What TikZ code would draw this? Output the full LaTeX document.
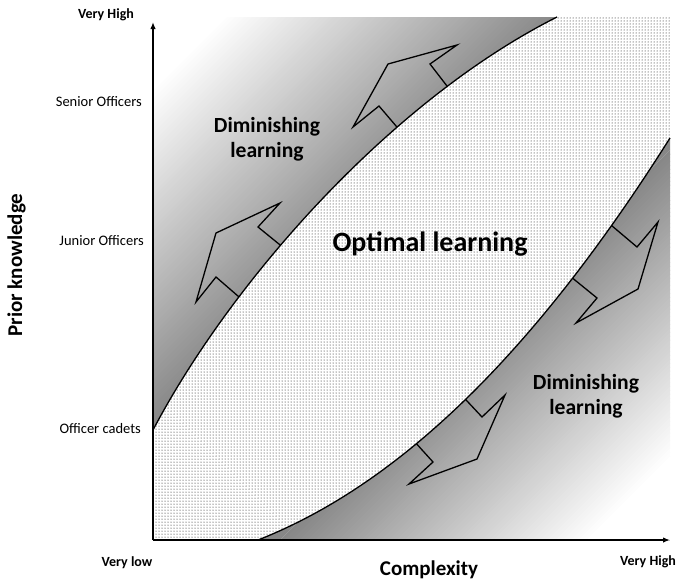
\documentclass[tikz,border=0pt]{standalone}
\usepackage{fontspec}
\setmainfont{Carlito}
\usetikzlibrary{arrows.meta,patterns}
\begin{document}
\begin{tikzpicture}[x=1pt,y=-1pt,
  curveline/.style={line width=1.3pt},
  blockarrow/.style={line width=1.3pt, line join=miter},
  axisline/.style={line width=1.8pt, -{Latex[length=7pt,width=5.5pt]}},
  ticklbl/.style={font=\fontsize{14.5}{17}\selectfont, anchor=base east, inner sep=0pt},
  endlbl/.style={font=\fontsize{14}{17}\selectfont\bfseries, anchor=base, inner sep=0pt},
  axislbl/.style={font=\fontsize{21}{25}\selectfont\bfseries, anchor=base, inner sep=0pt},
  zonelbl/.style={font=\fontsize{21.6}{25}\selectfont\bfseries, align=center, inner sep=0pt},
  biglbl/.style={font=\fontsize{28}{32}\selectfont\bfseries, anchor=base, inner sep=0pt}
]
\useasboundingbox (0,0) rectangle (679,579);

% key points
\coordinate (o) at (153,540);
\coordinate (ytop) at (153,22);
\coordinate (xend) at (670,540);
\coordinate (ub) at (153,430);
\coordinate (ut) at (557,17);
\coordinate (lb) at (258,540);
\coordinate (lr) at (670,138);

% optimal zone (dots)
\fill[pattern=dots, pattern color=black] (153,17) rectangle (670,540);

% upper diminishing zone
\begin{scope}
\clip (153,17) -- (ut) .. controls (392,100) and (232,280) .. (ub) -- cycle;
\fill[white] (140,0) rectangle (680,560);
\foreach \i in {0,...,79}{
  \pgfmathsetmacro\sa{240+\i*4.25}
  \pgfmathsetmacro\sb{\sa+5}
  \pgfmathsetmacro\k{47*\i/79}
  \fill[black!\k] (\sa+50,-50) -- (\sb+50,-50) -- (\sb-750,750) -- (\sa-750,750) -- cycle;
}
\fill[black!47] (630,-50) -- (1500,-50) -- (1500,750) -- (-170,750) -- cycle;
\draw[blockarrow] (246,303) -- (216,277) -- (196,302) -- (216,233) -- (280,203) -- (258,227) -- (290,253);
\draw[blockarrow] (408,140) -- (379,106) -- (353,127) -- (388,64) -- (457,45) -- (430,64) -- (457,99);
\end{scope}

% lower diminishing zone
\begin{scope}
\clip (lb) .. controls (395,486) and (530,360) .. (lr) -- (670,540) -- cycle;
\fill[white] (140,0) rectangle (680,560);
\fill[black!47] (870,-50) -- (70,750) -- (-1000,750) -- (-1000,-50) -- cycle;
\foreach \i in {0,...,79}{
  \pgfmathsetmacro\sa{820+\i*3.875}
  \pgfmathsetmacro\sb{\sa+5}
  \pgfmathsetmacro\k{47*(1-\i/79)}
  \fill[black!\k] (\sa+50,-50) -- (\sb+50,-50) -- (\sb-750,750) -- (\sa-750,750) -- cycle;
}
\draw[blockarrow] (404,430) -- (433,462) -- (409,484) -- (477,459) -- (505,395) -- (482,417) -- (453,386);
\draw[blockarrow] (565,272) -- (597,298) -- (576,323) -- (638,289) -- (658,222) -- (637,247) -- (605,220);
\end{scope}

% boundary curves
\draw[curveline] (ub) .. controls (232,280) and (392,100) .. (ut);
\draw[curveline] (lb) .. controls (395,486) and (530,360) .. (lr);

% axes
\draw[axisline] (o) -- (ytop);
\draw[axisline] (o) -- (xend);

% labels
\node[endlbl] (vhy) at (106,18) {Very High};
\node[ticklbl] (senior) at (142,106) {Senior Officers};
\node[ticklbl] (junior) at (144,245) {Junior Officers};
\node[ticklbl] (cadets) at (141,433) {Officer cadets};
\node[axislbl, rotate=90] (pk) at (22,265) {Prior knowledge};
\node[endlbl] (vlow) at (127,566) {Very low};
\node[endlbl] (vhx) at (648,565) {Very High};
\node[axislbl] (cx) at (429,575) {Complexity};
\node[zonelbl] (dimu) at (267,139) {Diminishing\\learning};
\node[zonelbl] (diml) at (586,396) {Diminishing\\learning};
\node[biglbl] (opt) at (430,251) {Optimal learning};
\end{tikzpicture}
\end{document}
